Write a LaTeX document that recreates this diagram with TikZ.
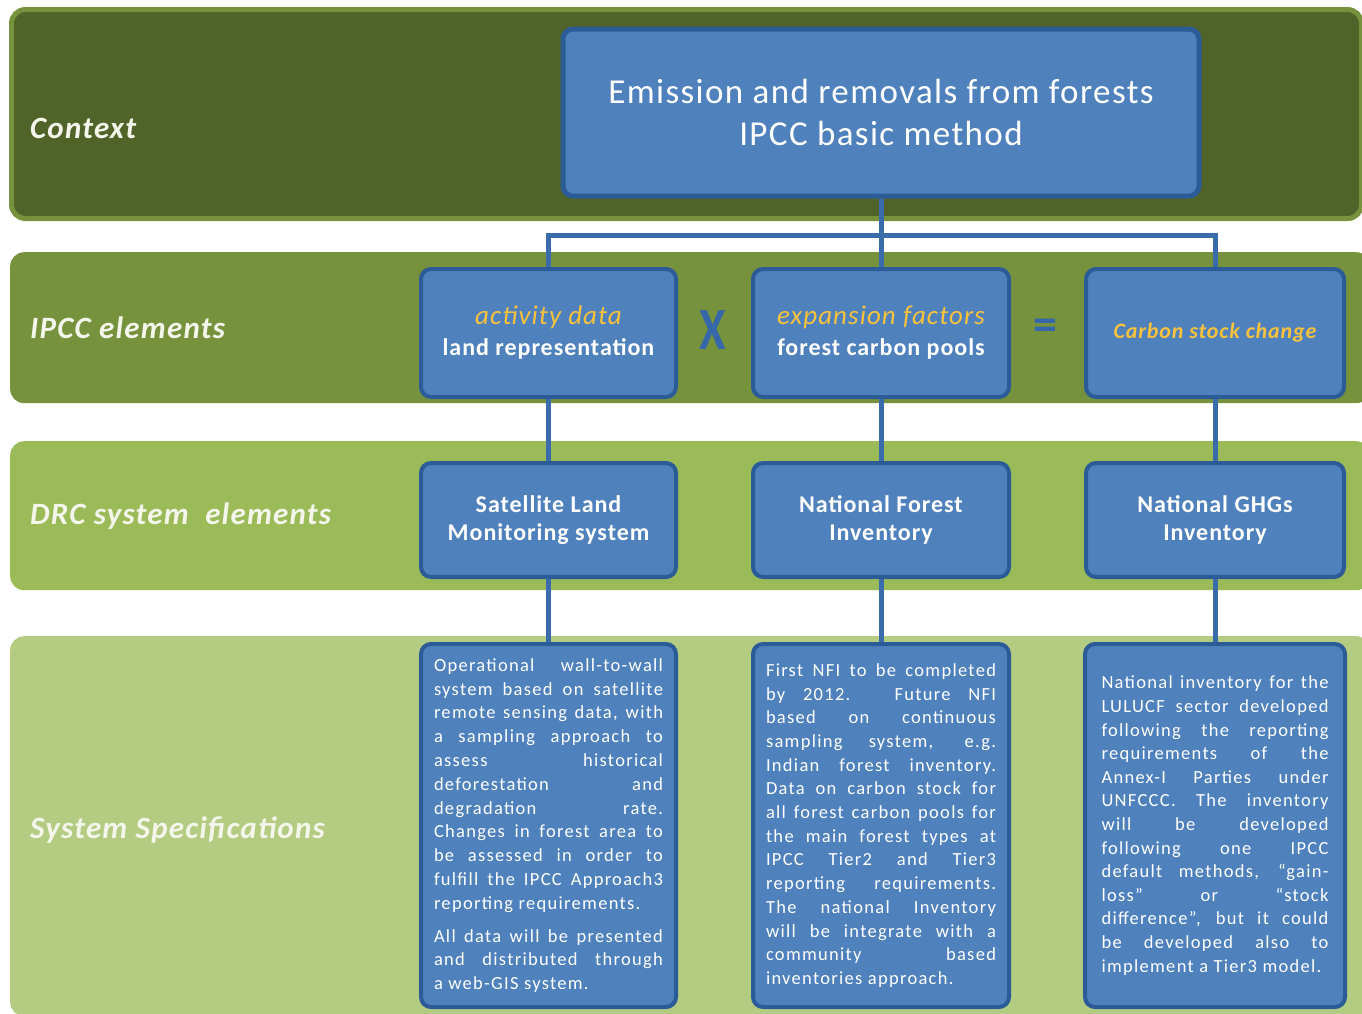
\documentclass[tikz,border=0pt]{standalone}
\usepackage{fontspec}
\setmainfont{Carlito}[LetterSpace=4]
\usetikzlibrary{calc}
\definecolor{ctxfill}{HTML}{506328}
\definecolor{ctxline}{HTML}{76923C}
\definecolor{ipccband}{HTML}{76923C}
\definecolor{drcband}{HTML}{9BBB59}
\definecolor{specband}{HTML}{B4CC82}
\definecolor{boxfill}{HTML}{4F81BD}
\definecolor{boxline}{HTML}{2C5C98}
\definecolor{connc}{HTML}{3A6BAA}
\definecolor{yel}{HTML}{F9C23C}
\definecolor{symb}{HTML}{3567AA}
\definecolor{lbl}{HTML}{F4F6EC}
\tikzset{
  band/.style={rounded corners=14pt, inner sep=0pt, anchor=north west},
  bluebox/.style={draw=boxline, fill=boxfill, line width=4pt, rounded corners=10pt,
     inner sep=0pt, align=center, text=white},
  conn/.style={draw=connc, line width=5pt},
  bandlabel/.style={anchor=west, text=lbl, font=\fontsize{31}{36}\selectfont\bfseries\itshape, inner sep=0pt},
  sym/.style={text=symb, font=\fontsize{48}{50}\selectfont\bfseries, inner sep=0pt}
}
\newcommand{\specfont}[1]{\fontsize{18.5}{#1}\selectfont\addfontfeatures{LetterSpace=7}\setlength{\parindent}{0pt}}
\begin{document}
\begin{tikzpicture}[x=1pt,y=-1pt]
\useasboundingbox (0,0) rectangle (1362,1013);
\fill[white] (0,0) rectangle (1362,1013);
% bands
\node[band, fill=ctxfill, draw=ctxline, line width=5pt, minimum width=1350pt, minimum height=209pt] (bctx) at (9,7) {};
\node[band, fill=ipccband, minimum width=1360pt, minimum height=151pt] (bipcc) at (10,252) {};
\node[band, fill=drcband, minimum width=1360pt, minimum height=149pt] (bdrc) at (10,441) {};
\node[band, fill=specband, minimum width=1360pt, minimum height=380pt] (bspec) at (10,636) {};
% band labels
\node[bandlabel] (lctx) at (30,128) {Context};
\node[bandlabel] (lipcc) at (30,328) {IPCC elements};
\node[bandlabel] (ldrc) at (30,516) {DRC system\ \ elements};
\node[bandlabel] (lspec) at (30,830) {System Specifications};
% top box
\node[bluebox, minimum width=636pt, minimum height=167pt, line width=5pt,
  font=\fontsize{35}{42}\selectfont] (top) at (881,112.5)
  {Emission and removals from forests\\IPCC basic method};
% row 2
\node[bluebox, minimum width=255pt, minimum height=128pt, font=\fontsize{24}{31}\selectfont] (act) at (548.5,333)
  {{\fontsize{27}{31}\selectfont\itshape\color{yel}activity data}\\
   {\bfseries land representation}};
\node[bluebox, minimum width=256pt, minimum height=128pt, font=\fontsize{24}{31}\selectfont] (exp) at (881,333)
  {{\fontsize{27}{31}\selectfont\itshape\color{yel}expansion factors}\\
   {\bfseries forest carbon pools}};
\node[bluebox, minimum width=258pt, minimum height=128pt] (csc) at (1215,333)
  {{\fontsize{22}{26}\selectfont\bfseries\itshape\color{yel}Carbon stock change}};
\node[sym, yscale=1.25] (times) at (713,330) {X};
\node[sym] (eq) at (1045,330) {=};
% row 3
\node[bluebox, minimum width=255pt, minimum height=114pt,
  font=\fontsize{24}{28}\selectfont\bfseries] (slms) at (548.5,520)
  {Satellite Land\\Monitoring system};
\node[bluebox, minimum width=256pt, minimum height=114pt,
  font=\fontsize{24}{28}\selectfont\bfseries] (nfi) at (881,520)
  {National Forest\\Inventory};
\node[bluebox, minimum width=258pt, minimum height=114pt,
  font=\fontsize{24}{28}\selectfont\bfseries] (ghg) at (1215,520)
  {National GHGs\\Inventory};
% row 4
\node[bluebox, minimum width=255pt, minimum height=363pt] (s1) at (548.5,825.5)
  {\begin{minipage}{229pt}\specfont{23.8}%
Operational wall-to-wall\linebreak
system based on satellite\linebreak
remote sensing data, with\linebreak
a sampling approach to\linebreak
assess historical\linebreak
deforestation and\linebreak
degradation rate.\linebreak
Changes in forest area to\linebreak
be assessed in order to\linebreak
fulfill the IPCC Approach3\linebreak
reporting requirements.\par\vspace{9pt}
All data will be presented\linebreak
and distributed through\linebreak
a web-GIS system.
\end{minipage}};
\node[bluebox, minimum width=256pt, minimum height=363pt] (s2) at (881,825.5)
  {\begin{minipage}{230pt}\specfont{23.7}%
First NFI to be completed\linebreak
by 2012. Future NFI\linebreak
based on continuous\linebreak
sampling system, e.g.\linebreak
Indian forest inventory.\linebreak
Data on carbon stock for\linebreak
all forest carbon pools for\linebreak
the main forest types at\linebreak
IPCC Tier2 and Tier3\linebreak
reporting requirements.\linebreak
The national Inventory\linebreak
will be integrate with a\linebreak
community based\linebreak
inventories approach.
\end{minipage}};
\node[bluebox, minimum width=260pt, minimum height=363pt] (s3) at (1215,825.5)
  {\begin{minipage}{227pt}\specfont{23.6}%
National inventory for the\linebreak
LULUCF sector developed\linebreak
following the reporting\linebreak
requirements of the\linebreak
Annex-I Parties under\linebreak
UNFCCC. The inventory\linebreak
will be developed\linebreak
following one IPCC\linebreak
default methods, “gain-\linebreak
loss” or “stock\linebreak
difference”, but it could\linebreak
be developed also to\linebreak
implement a Tier3 model.
\end{minipage}};
% connectors
\coordinate (hub) at (881,235);
\draw[conn] (top.south) -- (exp.north);
\draw[conn] (act.north) -- (act.north |- hub) -- (csc.north |- hub) -- (csc.north);
\draw[conn] (act.south) -- (slms.north);
\draw[conn] (exp.south) -- (nfi.north);
\draw[conn] (csc.south) -- (ghg.north);
\draw[conn] (slms.south) -- (s1.north);
\draw[conn] (nfi.south) -- (s2.north);
\draw[conn] (ghg.south) -- (s3.north);
\end{tikzpicture}
\end{document}
